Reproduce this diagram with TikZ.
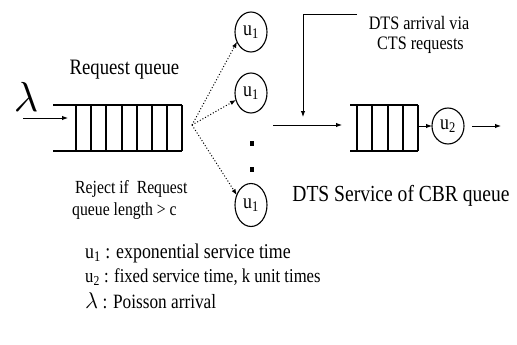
\documentclass[tikz,border=0pt]{standalone}
\usepackage{fontspec}
\setmainfont[FakeStretch=0.85]{Liberation Serif}
\usetikzlibrary{arrows.meta,shapes.geometric}
\tikzset{
  qline/.style={line width=1.3pt},
  conn/.style={line width=1pt, -{Latex[length=6pt,width=4.5pt]}},
  dotconn/.style={line width=1pt, dash pattern=on 1pt off 2pt, -{Latex[length=6pt,width=4.5pt]}},
  srv/.style={ellipse, draw, line width=1.1pt, inner sep=0pt, outer sep=0pt,
    minimum width=32pt, minimum height=40pt, font=\fontsize{21}{21}\selectfont},
  lbl/.style={inner sep=0pt, anchor=base},
  leg/.style={inner sep=0pt, anchor=base west, font=\fontsize{20.3}{20.3}\selectfont},
}
\begin{document}
\begin{tikzpicture}[x=1pt,y=-1pt]
\useasboundingbox (0,0) rectangle (517,345);
% arrival
\node[inner sep=0pt] (lam) at (26,97) {\scalebox{4.2}{$\lambda$}};
\coordinate (lamstart) at (23,118);
\coordinate (rqin) at (68,118);
\draw[conn] (lamstart) -- (rqin);
% request queue
\draw[qline] (53,105) -- (182,105) (53,151) -- (182,151);
\foreach \x in {76,91,106,122,137,152,167,182} \draw[qline] (\x,105) -- (\x,151);
\node[lbl, font=\fontsize{22}{22}\selectfont] (rqlabel) at (124.5,75) {Request queue};
\node[inner sep=0pt, anchor=base west, font=\fontsize{18.5}{18.5}\selectfont] (rej1) at (75,193) {Reject if\ \ Request};
\node[inner sep=0pt, anchor=base west, font=\fontsize{18.5}{18.5}\selectfont] (rej2) at (72,215) {queue length > c};
% servers
\coordinate (rqout) at (192,125);
\node[srv] (u1a) at (251,32) {u\textsubscript{1}};
\node[srv] (u1b) at (251,93) {u\textsubscript{1}};
\node[srv, minimum height=43pt] (u1c) at (251,205) {u\textsubscript{1}};
\draw[dotconn] (rqout) -- (u1a.215);
\draw[dotconn] (rqout) -- (u1b.205);
\draw[dotconn] (rqout) -- (u1c.145);
\fill (250,141) rectangle (254,146);
\fill (250,167) rectangle (254,172);
% to CBR queue
\coordinate (mstart) at (273,125);
\coordinate (mend) at (342,125);
\draw[conn] (mstart) -- (mend);
\node[lbl, font=\fontsize{19}{19}\selectfont] (dts1) at (419,30) {DTS arrival via};
\node[lbl, font=\fontsize{19}{19}\selectfont] (dts2) at (420.5,50) {CTS requests};
\coordinate (feedstart) at (357,15);
\coordinate (join) at (303,117);
\draw[conn] (feedstart) -| (join);
% CBR queue
\draw[qline] (350,105) -- (418,105) (350,151) -- (418,151);
\foreach \x in {357,372,388,403,418} \draw[qline] (\x,105) -- (\x,151);
\node[srv, minimum height=36pt] (u2) at (448,126) {u\textsubscript{2}};
\coordinate (cbrout) at (418,126);
\draw[conn] (cbrout) -- (u2.west);
\coordinate (outstart) at (472,126);
\coordinate (outend) at (501,126);
\draw[conn] (outstart) -- (outend);
\node[lbl, font=\fontsize{23}{23}\selectfont] (cbrlabel) at (401,201) {DTS Service of CBR queue};
% legend
\node[leg, font=\fontsize{21}{21}\selectfont] (leg1) at (85,258) {u\textsubscript{1} : exponential service time};
\node[leg, font=\fontsize{19.6}{19.6}\selectfont] (leg2) at (85,282) {u\textsubscript{2} : fixed service time, k unit times};
\node[leg] (leg3) at (85,308) {\scalebox{1.1}{$\lambda$} : Poisson arrival};
\end{tikzpicture}
\end{document}
